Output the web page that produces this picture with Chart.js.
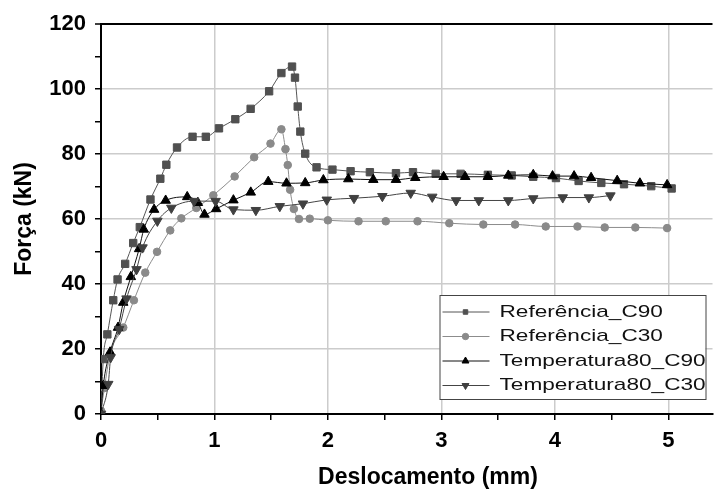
<!DOCTYPE html>
<html>
<head>
<meta charset="utf-8">
<script src="https://cdn.jsdelivr.net/npm/chart.js@4/dist/chart.umd.min.js"></script>
<style>
  html, body { margin: 0; padding: 0; background: #fff; }
  #wrap { width: 719px; height: 490px; position: relative; }
</style>
</head>
<body>
<div id="wrap"><canvas id="chart"></canvas></div>
<script>
// Series labels
const seriesLabels = ['Referência_C90', 'Referência_C30', 'Temperatura80_C90', 'Temperatura80_C30'];
const xTitle = 'Deslocamento (mm)';
const yTitle = 'Força (kN)';

// Referência_C90 (squares)
const refC90X = [0, 0.02, 0.056, 0.108, 0.146, 0.213, 0.284, 0.342, 0.436, 0.523, 0.576, 0.67, 0.807, 0.924, 1.04, 1.184, 1.319, 1.482, 1.59, 1.684, 1.71, 1.734, 1.757, 1.80, 1.90, 2.04, 2.20, 2.37, 2.60, 2.75, 2.95, 3.17, 3.41, 3.62, 3.81, 4.01, 4.21, 4.41, 4.61, 4.85, 5.03];
const refC90Y = [0, 16.9, 24.5, 35, 41.4, 46.2, 52.6, 57.5, 66, 72.4, 76.7, 82, 85.3, 85.3, 87.9, 90.7, 93.9, 99.3, 104.9, 106.9, 103.5, 94.6, 86.9, 80.1, 75.9, 75.2, 74.7, 74.4, 74.1, 74.4, 73.9, 73.9, 73.6, 73.4, 73, 72.6, 71.7, 71.1, 70.7, 70.1, 69.4];

// Referência_C30 (circles)
const refC30X = [0, 0.03, 0.08, 0.196, 0.29, 0.39, 0.494, 0.61, 0.708, 0.84, 0.99, 1.178, 1.35, 1.494, 1.59, 1.626, 1.646, 1.667, 1.70, 1.745, 1.84, 2.0, 2.27, 2.51, 2.79, 3.07, 3.37, 3.65, 3.92, 4.20, 4.44, 4.71, 4.99];
const refC30Y = [1, 8, 18.4, 26.6, 35, 43.5, 49.9, 56.5, 60.2, 63.4, 67.3, 73.1, 79, 83.2, 87.6, 81.5, 76.6, 69, 63.1, 60, 60.1, 59.6, 59.3, 59.3, 59.3, 58.7, 58.3, 58.3, 57.7, 57.7, 57.4, 57.4, 57.2];

// Temperatura80_C90 (up triangles)
const t80C90X = [0, 0.02, 0.08, 0.15, 0.196, 0.263, 0.336, 0.377, 0.468, 0.57, 0.76, 0.854, 0.912, 1.015, 1.167, 1.32, 1.474, 1.635, 1.80, 1.96, 2.18, 2.40, 2.60, 2.77, 3.02, 3.21, 3.41, 3.59, 3.81, 3.98, 4.17, 4.32, 4.55, 4.75, 4.99];
const t80C90Y = [0, 8.7, 19, 26.6, 34.3, 42.2, 50.8, 56.8, 62.9, 65.7, 66.8, 65, 61.4, 63.1, 65.8, 68.2, 71.5, 71, 71.1, 72, 72.3, 72.1, 72.1, 72.7, 73, 73, 73, 73.4, 73.6, 73.2, 73.2, 72.7, 71.8, 71, 70.5];

// Temperatura80_C30 (down triangles)
const t80C30X = [0, 0.064, 0.085, 0.16, 0.225, 0.313, 0.366, 0.497, 0.62, 0.82, 1.01, 1.167, 1.365, 1.576, 1.78, 1.99, 2.23, 2.48, 2.73, 2.92, 3.13, 3.33, 3.59, 3.81, 4.07, 4.30, 4.49];
const t80C30Y = [0, 9.2, 17.4, 26.1, 35.5, 44.5, 51.2, 59.4, 63.4, 65.5, 65.5, 62.9, 62.7, 63.9, 64.7, 65.9, 66.4, 67, 68, 66.8, 65.7, 65.7, 65.7, 66.3, 66.6, 66.6, 67.2];

const FONT = '"Liberation Sans", Arial, sans-serif';

function toPoints(xs, ys) {
  return xs.map((x, i) => ({ x, y: ys[i] }));
}

// Origin-style legend box + x title (title sits a bit right of centre in the original)
const legendBox = {
  id: 'legendBox',
  afterDatasetsDraw(chart) {
    const { ctx, chartArea } = chart;
    const right = chartArea.right - 7;
    const bottom = chartArea.bottom - 15;
    const w = 266, h = 104;
    const left = right - w, top = bottom - h;
    ctx.save();
    ctx.fillStyle = '#fff';
    ctx.fillRect(left, top, w, h);
    ctx.strokeStyle = '#444';
    ctx.lineWidth = 1;
    ctx.strokeRect(left + 0.5, top + 0.5, w, h);

    chart.data.datasets.forEach((ds, i) => {
      const y = top + 17 + i * 24.5;
      ctx.strokeStyle = ds.borderColor;
      ctx.lineWidth = 1;
      ctx.beginPath();
      ctx.moveTo(left + 3, y);
      ctx.lineTo(left + 50, y);
      ctx.stroke();
      ctx.fillStyle = ds.pointBackgroundColor;
      ctx.strokeStyle = ds.pointBackgroundColor;
      Chart.helpers.drawPoint(ctx, {
        pointStyle: ds.pointStyle,
        radius: ds.pointStyle === 'triangle' ? 4 : 3.2,
        rotation: ds.pointRotation || 0,
        borderWidth: 1
      }, left + 26, y);

      ctx.save();
      ctx.translate(left + 60, y);
      ctx.scale(1.33, 1);
      ctx.fillStyle = '#111';
      ctx.font = '17px ' + FONT;
      ctx.textBaseline = 'middle';
      ctx.fillText(ds.label, 0, 0);
      ctx.restore();
    });

    ctx.fillStyle = '#000';
    ctx.font = 'bold 23px ' + FONT;
    ctx.textAlign = 'center';
    ctx.textBaseline = 'middle';
    ctx.fillText(xTitle, 428, chart.height - 12);
    ctx.restore();
  }
};

const ctx = document.getElementById('chart');

new Chart(ctx, {
  type: 'line',
  data: {
    datasets: [
      {
        label: seriesLabels[0],
        data: toPoints(refC90X, refC90Y),
        borderColor: '#555555',
        pointBackgroundColor: '#505050',
        pointBorderColor: '#505050',
        pointStyle: 'rect',
        pointRadius: 5.2,
        order: 3
      },
      {
        label: seriesLabels[1],
        data: toPoints(refC30X, refC30Y),
        borderColor: '#8c8c8c',
        pointBackgroundColor: '#8a8a8a',
        pointBorderColor: '#8a8a8a',
        pointStyle: 'circle',
        pointRadius: 3.8,
        order: 2
      },
      {
        label: seriesLabels[2],
        data: toPoints(t80C90X, t80C90Y),
        borderColor: '#111111',
        pointBackgroundColor: '#000000',
        pointBorderColor: '#000000',
        pointStyle: 'triangle',
        pointRadius: 5.5,
        order: 1
      },
      {
        label: seriesLabels[3],
        data: toPoints(t80C30X, t80C30Y),
        borderColor: '#444444',
        pointBackgroundColor: '#404040',
        pointBorderColor: '#404040',
        pointStyle: 'triangle',
        pointRotation: 180,
        pointRadius: 5.5,
        order: 0
      }
    ].map(ds => ({
      borderWidth: 1,
      pointBorderWidth: 1,
      cubicInterpolationMode: 'monotone',
      fill: false,
      ...ds
    }))
  },
  options: {
    responsive: true,
    maintainAspectRatio: false,
    animation: false,
    layout: { padding: { top: 24, right: 4, left: 0, bottom: 0 } },
    plugins: {
      legend: { display: false },
      tooltip: { enabled: false }
    },
    scales: {
      x: {
        type: 'linear',
        min: 0,
        max: 5.39,
        afterFit: scale => { scale.height = 76; },
        border: { color: '#000', width: 2 },
        grid: {
          color: c => (c.tick && c.tick.value > 0 && c.tick.value % 1 === 0) ? '#cccccc' : 'rgba(0,0,0,0)',
          lineWidth: 1.5,
          tickColor: '#000',
          tickLength: 6,
          tickWidth: 1.5
        },
        ticks: {
          stepSize: 0.5,
          includeBounds: false,
          autoSkip: false,
          maxRotation: 0,
          padding: 8,
          color: '#000',
          font: { family: FONT, size: 22, weight: 'bold' },
          callback: v => (v % 1 === 0 ? v : '')
        },
        title: { display: false }
      },
      y: {
        min: 0,
        max: 120,
        afterFit: scale => { scale.width = 101; },
        border: { color: '#000', width: 2 },
        grid: {
          color: c => {
            const v = c.tick ? c.tick.value : 0;
            if (v === 120) return '#000';
            return (v > 0 && v % 20 === 0) ? '#cccccc' : 'rgba(0,0,0,0)';
          },
          lineWidth: c => (c.tick && c.tick.value === 120 ? 2 : 1.5),
          tickColor: '#000',
          tickLength: 6,
          tickWidth: 1.5
        },
        ticks: {
          stepSize: 10,
          autoSkip: false,
          padding: 9,
          color: '#000',
          font: { family: FONT, size: 22, weight: 'bold' },
          callback: v => (v % 20 === 0 ? v : '')
        },
        title: {
          display: true,
          text: yTitle,
          color: '#000',
          font: { family: FONT, size: 23, weight: 'bold' },
          padding: { top: 11, bottom: 0 }
        }
      }
    }
  },
  plugins: [legendBox]
});
</script>
</body>
</html>
